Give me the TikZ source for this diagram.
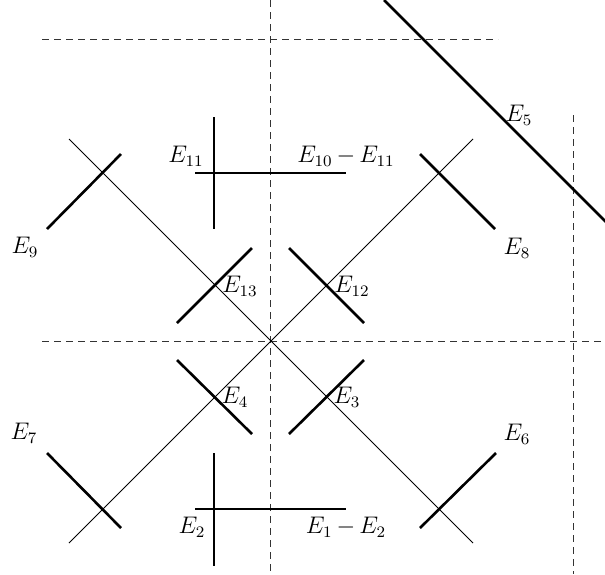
\documentclass[tikz,border=0pt]{standalone}
\begin{document}
\begin{tikzpicture}[x=0.5pt,y=-0.5pt,
  thinline/.style={line width=0.5pt},
  thickline/.style={line width=1.3pt},
  dashline/.style={line width=0.5pt, draw=black!80, dash pattern=on 3.5pt off 2.5pt},
  lab/.style={inner sep=0pt, font=\fontsize{11.5}{14}\selectfont}]
\useasboundingbox (0,0) rectangle (605,574);
% dashed guide lines
\draw[dashline] (270,0) -- (270,574);
\draw[dashline] (42,341) -- (605,341);
\draw[dashline] (42,39) -- (498,39);
\draw[dashline] (573,115) -- (573,574);
% thin diagonals
\draw[thinline] (69,139) -- (473,543);
\draw[thinline] (473,139) -- (69,543);
% thick segments
\draw[thickline] (47,229) -- (121,154);
\draw[thickline] (420,154) -- (495,229);
\draw[thickline] (177,323) -- (252,248);
\draw[thickline] (289,248) -- (364,323);
\draw[thickline] (177,360) -- (252,434);
\draw[thickline] (289,434) -- (364,360);
\draw[thickline] (47,453) -- (121,528);
\draw[thickline] (420,528) -- (496,453);
\draw[thickline] (214,117) -- (214,229);
\draw[thickline] (195,173) -- (346,173);
\draw[thickline] (214,453) -- (214,566);
\draw[thickline] (195,509) -- (346,509);
\draw[thickline] (384,0) -- (607,223);
% labels
\node[lab] (l11) at (186,156) {$E_{11}$};
\node[lab] (l1011) at (346,156) {$E_{10}\,{-}\,E_{11}$};
\node[lab] (l2) at (192,527) {$E_{2}$};
\node[lab] (l12b) at (346,527) {$E_{1}\,{-}\,E_{2}$};
\node[lab] (l5) at (519,115) {$E_{5}$};
\node[lab] (l9) at (25,247) {$E_{9}$};
\node[lab] (l8) at (517,248) {$E_{8}$};
\node[lab] (l13) at (240,286) {$E_{13}$};
\node[lab] (l12) at (352,286) {$E_{12}$};
\node[lab] (l4) at (235,397) {$E_{4}$};
\node[lab] (l3) at (347,397) {$E_{3}$};
\node[lab] (l7) at (24,433) {$E_{7}$};
\node[lab] (l6) at (517,434) {$E_{6}$};
\end{tikzpicture}
\end{document}
